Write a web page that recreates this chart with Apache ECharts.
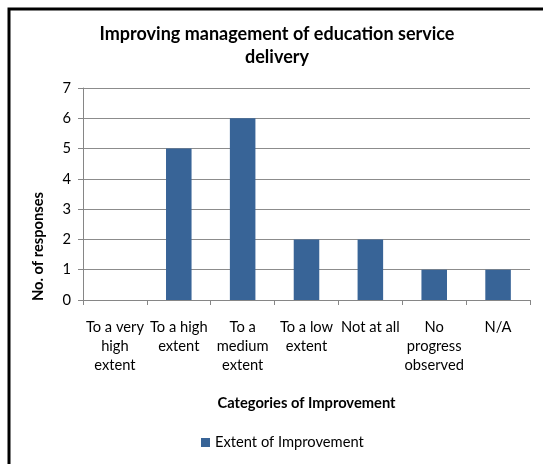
<!DOCTYPE html>
<html><head><meta charset="utf-8">
<script src="https://cdn.jsdelivr.net/npm/echarts@6/dist/echarts.min.js"></script>
<style>html,body{margin:0;padding:0;background:#fff}#c{width:543px;height:464px}</style>
</head><body><div id="c"></div>
<script>
const categories = ['To a very\nhigh\nextent','To a high\nextent','To a\nmedium\nextent','To a low\nextent','Not at all','No\nprogress\nobserved','N/A'];
const values = [0,5,6,2,2,1,1];
const seriesName = 'Extent of Improvement';
const yTicks = [0,1,2,3,4,5,6,7];
const font = 'Lato, "Open Sans", sans-serif';
const chart = echarts.init(document.getElementById('c'));
chart.setOption({
  backgroundColor:'#fff',
  animation:false,
  title:{text:'Improving management of education service\ndelivery',left:272,textAlign:'center',top:18,
    textStyle:{fontFamily:font,fontSize:18,fontWeight:'bold',color:'#000',lineHeight:23}},
  grid:{left:83,right:13,top:88,bottom:164},
  legend:{data:[seriesName],left:196,top:430,itemWidth:9,itemHeight:9,itemGap:5,
    textStyle:{fontFamily:font,fontSize:14.7,color:'#000'},icon:'rect'},
  xAxis:{type:'category',data:categories,
    axisLine:{lineStyle:{color:'#868686',width:1}},
    axisTick:{show:true,length:5,alignWithLabel:false,lineStyle:{color:'#868686'}},
    axisLabel:{fontFamily:font,fontSize:14.7,color:'#000',lineHeight:19,margin:18,interval:0},
    name:'Categories of Improvement',nameLocation:'middle',nameGap:96,
    nameTextStyle:{fontFamily:font,fontSize:14.7,fontWeight:'bold',color:'#000'}},
  yAxis:{type:'value',min:yTicks[0],max:yTicks[yTicks.length-1],interval:1,
    axisLine:{show:true,lineStyle:{color:'#868686'}},
    axisTick:{show:true,length:5,lineStyle:{color:'#868686'}},
    splitLine:{lineStyle:{color:'#8c8c8c'}},
    axisLabel:{fontFamily:font,fontSize:14.7,color:'#000',margin:12}},
  series:[{name:seriesName,type:'bar',data:values,barWidth:'40%',
    itemStyle:{color:'#386497'}}],
  graphic:[
    {type:'rect',shape:{x:9,y:9,width:700,height:700},style:{fill:'none',stroke:'#000',lineWidth:3}},
    {type:'text',x:38,y:301,rotation:Math.PI/2,style:{text:'No. of responses',fontFamily:font,fontSize:14.7,fontWeight:'bold',fill:'#000',align:'left',verticalAlign:'middle'}}
  ]
});
</script></body></html>
